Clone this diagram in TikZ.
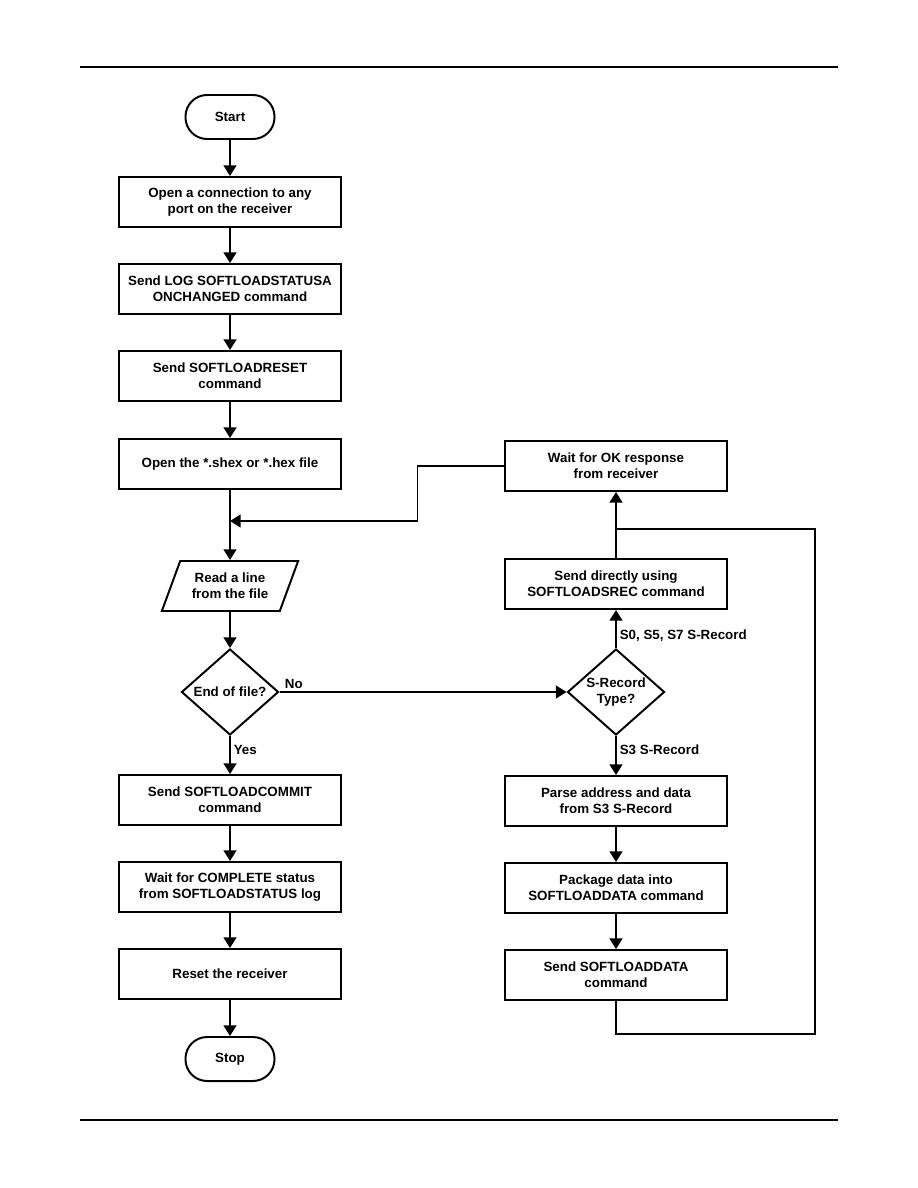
\documentclass[tikz,border=0pt]{standalone}
\usepackage{fontspec}
\setmainfont{Liberation Sans}
\usetikzlibrary{arrows.meta,positioning,shapes.geometric,shapes.misc}

\begin{document}
\begin{tikzpicture}[x=0.025cm,y=-0.025cm,
  line width=1.4pt,
  font=\fontsize{9.5}{11.4}\selectfont\bfseries,
  >={Triangle[length=7.5pt,width=9pt]},
  proc/.style={draw,minimum width=5.525cm,minimum height=1.25cm,align=center,inner sep=2pt},
  term/.style={draw,rounded corners=0.54cm,minimum width=2.225cm,minimum height=1.1cm},
  io/.style={draw,trapezium,trapezium left angle=63,trapezium right angle=117,
    trapezium stretches,minimum width=3.425cm,minimum height=1.25cm,align=center,inner sep=1pt},
  decide/.style={draw,diamond,minimum width=2.425cm,minimum height=2.15cm,inner sep=0pt},
  tag/.style={inner sep=2pt}]
  \useasboundingbox (0,0) rectangle (918,1188);
  % page rules
  \draw[line width=1pt] (80,67) -- (838,67);
  \draw[line width=1pt] (80,1120) -- (838,1120);

  % left column
  \node[term] (start) at (230,117) {Start};
  \node[proc] (conn) at (230,202) {Open a connection to any\\port on the receiver};
  \node[proc] (logcmd) at (230,289) {Send LOG SOFTLOADSTATUSA\\ONCHANGED command};
  \node[proc] (reset) at (230,376) {Send SOFTLOADRESET\\command};
  \node[proc] (openf) at (230,464) {Open the *.shex or *.hex file};
  \coordinate (merge) at (230,521);
  \node[io] (readln) at (230,586) {Read a line\\from the file};
  \node[decide,label={[align=center]center:End of file?}] (eof) at (230,692) {};
  \node[proc] (commit) at (230,800) {Send SOFTLOADCOMMIT\\command};
  \node[proc] (waitc) at (230,887) {Wait for COMPLETE status\\from SOFTLOADSTATUS log};
  \node[proc] (rstrx) at (230,974) {Reset the receiver};
  \node[term] (stop) at (230,1059) {Stop};

  % right column
  \node[proc] (waitok) at (616,466) {Wait for OK response\\from receiver};
  \node[proc] (direct) at (616,584) {Send directly using\\SOFTLOADSREC command};
  \node[decide,label={[align=center]center:S-Record\\Type?}] (stype) at (616,692) {};
  \node[proc] (parse) at (616,801) {Parse address and data\\from S3 S-Record};
  \node[proc] (pkg) at (616,888) {Package data into\\SOFTLOADDATA command};
  \node[proc] (sdata) at (616,975) {Send SOFTLOADDATA\\command};
  \coordinate (join) at (616,529);
  \coordinate (loopr) at (815,1034);

  % connectors
  \draw[->] (start) -- (conn);
  \draw[->] (conn) -- (logcmd);
  \draw[->] (logcmd) -- (reset);
  \draw[->] (reset) -- (openf);
  \draw[->] (openf) -- (readln);
  \draw[->] (waitok.west) -- ++(-87,0) |- (merge);
  \draw[->] (readln) -- (eof);
  \draw[->] (eof) -- node[tag,right,pos=0.38] (yes) {Yes} (commit);
  \draw[->] (eof.east) -- node[tag,above,pos=0.05] (no) {No} (stype.west);
  \draw[->] (commit) -- (waitc);
  \draw[->] (waitc) -- (rstrx);
  \draw[->] (rstrx) -- (stop);

  \draw[->] (stype) -- node[tag,right,pos=0.36] (s3) {S3 S-Record} (parse);
  \draw[->] (stype) -- node[tag,right,pos=0.33] (s057) {S0, S5, S7 S-Record} (direct);
  \draw[->] (direct) -- (waitok);
  \draw[->] (parse) -- (pkg);
  \draw[->] (pkg) -- (sdata);
  \draw (sdata.south) |- (loopr) |- (join);
\end{tikzpicture}
\end{document}
